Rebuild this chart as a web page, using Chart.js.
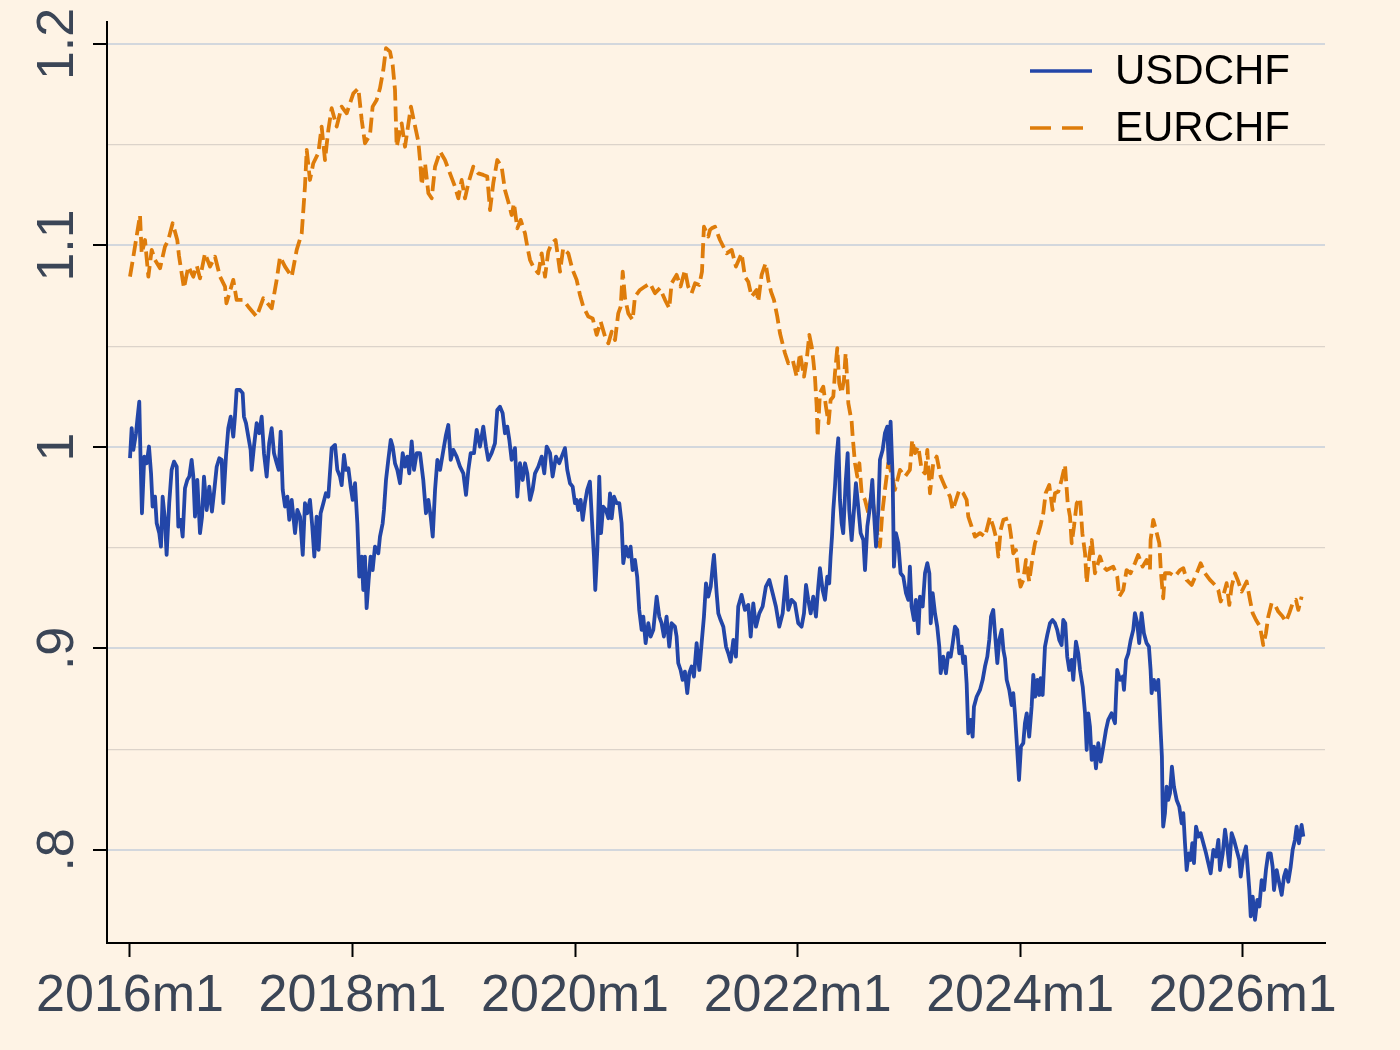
<!DOCTYPE html>
<html>
<head>
<meta charset="utf-8">
<script src="https://cdn.jsdelivr.net/npm/chart.js@4/dist/chart.umd.min.js"></script>
<style>
  html, body { margin: 0; padding: 0; background: #FEF3E5; }
  #c { display: block; }
</style>
</head>
<body>
<canvas id="c" width="1400" height="1050"></canvas>
<script>
// ---- DATA (x = months since 2016m1) ----
const seriesLabels = ['USDCHF', 'EURCHF'];

const usdMonths = [0,0.18,0.36,0.65,0.79,1.0,1.15,1.29,1.54,1.8,2.05,2.27,2.44,2.7,2.88,3.16,3.34,3.52,3.77,3.95,4.23,4.49,4.75,5.04,5.21,5.47,5.68,5.93,6.18,6.4,6.65,6.83,7.01,7.26,7.55,7.77,7.98,8.27,8.55,8.84,9.13,9.35,9.63,9.89,10.06,10.35,10.6,10.86,11.14,11.32,11.5,11.86,12.15,12.29,12.51,12.76,13.01,13.12,13.37,13.66,13.94,14.2,14.45,14.74,15.01,15.28,15.53,15.82,16.04,16.25,16.47,16.72,16.97,17.18,17.44,17.8,18.05,18.34,18.63,18.87,19.12,19.41,19.66,19.88,20.13,20.34,20.56,20.85,21.13,21.39,21.75,22.11,22.36,22.65,22.83,23.08,23.3,23.55,23.8,24.02,24.27,24.52,24.73,24.99,25.16,25.34,25.52,25.74,25.95,26.17,26.42,26.78,26.96,27.25,27.39,27.61,27.86,28.12,28.33,28.58,28.83,29.12,29.41,29.66,29.9,30.12,30.38,30.63,30.92,31.28,31.63,31.92,32.18,32.43,32.65,32.9,33.15,33.44,33.8,34.08,34.33,34.59,34.87,35.23,35.59,35.95,36.24,36.49,36.74,37.1,37.39,37.75,38.1,38.39,38.64,39,39.36,39.61,39.9,40.19,40.44,40.69,40.91,41.16,41.52,41.77,42.06,42.35,42.6,42.85,43.14,43.42,43.68,44.04,44.4,44.68,44.94,45.3,45.58,45.94,46.29,46.56,46.91,47.16,47.45,47.74,47.99,48.17,48.34,48.6,48.82,49.06,49.31,49.6,49.82,50.04,50.18,50.4,50.61,50.8,51.03,51.33,51.59,51.77,51.95,52.2,52.48,52.77,53.02,53.2,53.49,53.74,53.99,54.21,54.46,54.7,54.92,55.18,55.36,55.61,55.9,56.15,56.44,56.8,57.08,57.33,57.58,57.87,58.16,58.41,58.77,58.95,59.13,59.38,59.6,59.85,60.1,60.32,60.57,60.82,61.11,61.4,61.65,61.9,62.12,62.37,62.63,62.84,62.98,63.27,63.45,63.7,63.99,64.28,64.53,64.78,65.07,65.35,65.6,65.96,66.32,66.68,66.94,67.22,67.51,67.87,68.23,68.58,68.95,69.31,69.66,70.02,70.39,70.75,71,71.35,71.71,72.07,72.43,72.69,72.91,73.15,73.41,73.69,73.98,74.23,74.41,74.7,74.95,75.2,75.41,75.56,75.71,75.85,76.03,76.21,76.39,76.57,76.75,76.92,77.18,77.4,77.57,77.83,78.08,78.29,78.54,78.8,79.09,79.27,79.52,79.81,80.06,80.24,80.46,80.71,80.88,81.17,81.42,81.67,81.82,82.03,82.25,82.39,82.61,82.86,83.11,83.4,83.69,83.94,84.11,84.29,84.55,84.76,85.02,85.2,85.49,85.74,85.99,86.21,86.36,86.57,86.82,87.06,87.28,87.43,87.71,88,88.25,88.51,88.73,88.97,89.22,89.44,89.69,89.87,90.05,90.23,90.41,90.66,90.88,91.02,91.31,91.67,91.96,92.21,92.46,92.67,92.86,93.1,93.29,93.54,93.75,94.01,94.2,94.37,94.55,94.83,95.08,95.26,95.44,95.62,95.88,96.09,96.34,96.52,96.71,96.98,97.24,97.42,97.63,97.85,98.06,98.21,98.43,98.68,98.93,99.22,99.5,99.76,100,100.22,100.47,100.65,100.87,101.08,101.3,101.55,101.73,102.02,102.27,102.46,102.75,103,103.18,103.35,103.53,103.72,103.97,104.18,104.43,104.69,104.97,105.26,105.5,105.86,106.23,106.34,106.47,106.77,107.06,107.2,107.42,107.67,107.93,108.2,108.38,108.63,108.84,109.1,109.35,109.64,109.89,110.07,110.18,110.43,110.65,110.9,111.01,111.15,111.29,111.37,111.43,111.62,111.8,111.97,112.16,112.37,112.59,112.88,113.16,113.42,113.6,113.78,113.96,114.18,114.39,114.57,114.75,114.97,115.22,115.47,115.76,116.05,116.3,116.55,116.84,117.13,117.38,117.56,117.85,118.1,118.34,118.56,118.81,119.06,119.35,119.64,119.79,120.07,120.36,120.5,120.72,120.87,121.08,121.33,121.58,121.8,122.05,122.3,122.51,122.76,123.02,123.23,123.38,123.67,123.95,124.21,124.46,124.67,124.92,125.18,125.39,125.64,125.82,126.07,126.36,126.54];
const usdValues = [0.9944,1.0093,0.9985,1.0068,1.0134,1.0225,0.9919,0.9671,0.9952,0.9919,1.0002,0.9869,0.9704,0.9753,0.9621,0.9572,0.9505,0.9753,0.9638,0.9464,0.9721,0.9886,0.9927,0.9902,0.9605,0.9638,0.9555,0.9795,0.9836,0.9853,0.9936,0.9853,0.9654,0.9836,0.9572,0.9654,0.9853,0.9687,0.9803,0.9679,0.9803,0.9902,0.9944,0.9936,0.9721,0.9952,1.0093,1.015,1.0051,1.015,1.0283,1.0283,1.0267,1.015,1.0118,1.0051,0.9985,0.9886,1.0002,1.0118,1.0068,1.015,0.9969,0.9853,1.0018,1.0093,0.9969,0.9919,0.9886,1.0076,0.9787,0.9704,0.9753,0.9638,0.9737,0.9572,0.9687,0.9654,0.9464,0.9721,0.9671,0.9737,0.9605,0.9456,0.9654,0.9489,0.9671,0.9721,0.977,0.9753,0.9994,1.001,0.9886,0.9853,0.9811,0.996,0.9886,0.9894,0.9803,0.9737,0.982,0.9621,0.9356,0.9456,0.929,0.9456,0.92,0.934,0.9456,0.9389,0.9505,0.9472,0.9555,0.9621,0.9687,0.9836,0.9936,1.0035,1.0002,0.9919,0.9886,0.982,0.9969,0.9902,0.9952,0.9869,1.0027,0.9886,0.9969,0.9969,0.9836,0.9671,0.9737,0.9654,0.9555,0.9787,0.9936,0.9886,0.9985,1.006,1.0109,0.9936,0.9985,0.9952,0.9902,0.9869,0.9762,0.9886,0.9969,0.9969,1.0085,1.0002,1.0101,1.0002,0.9936,0.9969,1.0018,1.0184,1.02,1.0167,1.0068,1.0101,1.0035,0.9936,0.9994,0.9753,0.9919,0.9836,0.9919,0.9869,0.9737,0.9787,0.9869,0.9902,0.9952,0.9869,1.0002,0.9969,0.9853,0.9952,0.9919,0.9952,0.9994,0.9886,0.982,0.9803,0.9721,0.9737,0.9687,0.9737,0.9638,0.9721,0.9787,0.9828,0.9638,0.9456,0.929,0.9489,0.9853,0.9572,0.9704,0.9687,0.9646,0.977,0.9646,0.9753,0.9721,0.9721,0.9621,0.9423,0.9505,0.9456,0.9505,0.9389,0.9439,0.9356,0.9191,0.9092,0.9158,0.9026,0.9125,0.9059,0.9092,0.9257,0.9158,0.9125,0.9059,0.9158,0.9009,0.9125,0.9108,0.9059,0.8927,0.8893,0.8844,0.8885,0.8778,0.8877,0.891,0.886,0.9026,0.8893,0.9026,0.9158,0.9323,0.9257,0.9307,0.9406,0.9464,0.9274,0.9174,0.9141,0.9108,0.9009,0.8976,0.8934,0.9042,0.8959,0.9208,0.9266,0.9191,0.9216,0.9059,0.9224,0.9108,0.9174,0.9208,0.9307,0.934,0.9274,0.9208,0.9108,0.9174,0.9356,0.9191,0.9241,0.9224,0.9125,0.9108,0.9174,0.9315,0.9241,0.9174,0.9257,0.9158,0.9307,0.9398,0.929,0.9241,0.9356,0.9323,0.9456,0.9555,0.9687,0.9803,0.9952,1.0043,0.9737,0.9621,0.9572,0.982,0.9969,0.9687,0.9538,0.9687,0.982,0.9704,0.9572,0.9538,0.9389,0.9605,0.9704,0.9836,0.9671,0.9505,0.9687,0.9936,0.9985,1.0068,1.0101,0.9919,1.0126,0.9853,0.9406,0.9572,0.9522,0.9373,0.9356,0.9274,0.9241,0.9406,0.9208,0.9141,0.9241,0.9075,0.9257,0.9208,0.9373,0.9423,0.9373,0.9125,0.9274,0.9174,0.9108,0.9009,0.8877,0.8959,0.8877,0.8976,0.8959,0.9026,0.9108,0.9092,0.8976,0.9009,0.8927,0.8959,0.8827,0.8579,0.8645,0.8562,0.8711,0.876,0.8794,0.8844,0.891,0.8959,0.9042,0.9158,0.9191,0.9075,0.8927,0.9042,0.9092,0.899,0.895,0.8844,0.8794,0.8719,0.8778,0.8678,0.8546,0.8347,0.8513,0.853,0.8629,0.8678,0.8562,0.8711,0.8869,0.8761,0.8844,0.8769,0.8852,0.8769,0.9009,0.9067,0.9125,0.9141,0.9125,0.9092,0.9042,0.9017,0.9141,0.9125,0.8959,0.8893,0.8943,0.8844,0.9034,0.8976,0.8893,0.881,0.8678,0.8496,0.8678,0.8612,0.8447,0.8513,0.8405,0.853,0.8438,0.8513,0.8596,0.8645,0.8678,0.8629,0.8761,0.8893,0.8844,0.886,0.8794,0.8943,0.8976,0.9042,0.9092,0.9175,0.9125,0.9026,0.9175,0.9075,0.9026,0.9009,0.8893,0.8778,0.8844,0.8794,0.8844,0.8744,0.8596,0.8463,0.8215,0.8116,0.8182,0.8314,0.8248,0.8281,0.8413,0.8314,0.8248,0.8215,0.8132,0.8182,0.8033,0.79,0.7983,0.795,0.8033,0.7934,0.8116,0.8066,0.8083,0.8033,0.7983,0.7934,0.7884,0.8,0.7967,0.805,0.79,0.7983,0.81,0.8017,0.7917,0.8083,0.805,0.8,0.795,0.7868,0.7967,0.8017,0.7934,0.7801,0.767,0.7768,0.7653,0.7752,0.7719,0.785,0.7801,0.79,0.7983,0.7983,0.7917,0.7801,0.79,0.7834,0.7777,0.7868,0.79,0.7842,0.7917,0.8,0.805,0.8116,0.8033,0.8124,0.8066];

const eurMonths = [0,0.36,1.08,1.26,1.62,1.98,2.34,2.7,3.24,3.77,4.13,4.6,5.1,5.28,5.57,5.82,6.29,6.83,7.2,7.55,8.09,8.63,9.17,9.71,10.25,10.4,11.14,11.5,12.2,12.76,13.66,14.38,15.28,15.82,16.18,16.72,17.44,17.98,18.52,18.87,19.06,19.41,19.77,20.31,20.67,21.03,21.39,21.75,22.29,22.83,23.37,24.09,24.63,24.99,25.34,25.88,26.17,26.6,26.96,27.32,27.61,28.04,28.33,28.58,28.76,29.3,29.66,30.3,30.6,31.1,31.28,31.46,31.82,32.18,32.54,32.9,33.44,33.97,34.51,35.05,35.41,35.77,36.13,36.49,37.02,37.56,38.1,38.53,38.83,39.18,39.61,40.08,40.44,40.8,41.16,41.41,41.77,42.13,42.6,42.85,43.14,43.57,44.04,44.4,44.76,45.11,45.48,45.9,46.38,46.72,47.27,47.74,48.17,48.53,48.89,49.43,49.9,50.33,50.76,51.23,51.59,51.95,52.31,52.66,52.92,53.14,53.39,53.74,54.21,54.46,55,55.54,56.08,56.62,57.16,57.7,58.16,58.41,58.95,59.38,59.85,60.2,60.57,60.94,61.4,61.69,61.77,61.9,62.37,62.55,62.74,63.09,63.63,64.35,64.89,65.35,65.96,66.32,66.68,67.04,67.58,67.76,68.12,68.55,68.84,69.13,69.45,69.81,70.1,70.46,70.64,71,71.47,71.9,72.26,72.69,72.98,73.26,73.52,73.69,73.87,74.06,74.16,74.41,74.77,75.06,75.34,75.56,75.85,76.03,76.28,76.49,76.75,77,77.18,77.4,77.47,77.83,77.94,78.19,78.44,78.66,78.91,79.27,79.63,79.99,80.24,80.53,80.88,81.13,81.42,81.78,82.14,82.5,83.04,83.58,84.11,84.36,84.66,85.02,85.38,85.74,85.99,86.28,86.63,87,87.43,87.9,88.44,88.73,89.09,89.44,89.87,90.23,90.41,90.77,91.13,91.67,92.21,92.75,93.1,93.47,93.65,93.9,94.19,94.73,94.98,95.26,95.55,95.8,96.05,96.34,96.63,96.98,97.35,97.6,97.96,98.21,98.5,98.75,99.14,99.5,99.76,100.11,100.47,100.84,101.13,101.38,101.56,101.81,102.1,102.46,102.71,103,103.18,103.46,103.72,104.07,104.61,104.97,105.33,106.04,106.47,106.69,107.12,107.48,107.91,108.38,108.73,109.21,109.64,110,110.07,110.36,110.65,111.01,111.19,111.43,111.62,112.16,112.7,113.24,113.6,113.96,114.5,115.04,115.47,115.94,116.47,117.01,117.37,117.63,117.98,118.27,118.56,118.81,119.17,119.53,119.89,120.43,120.79,121.08,121.44,121.87,122.22,122.51,122.76,123.12,123.48,123.84,124.31,124.67,125.03,125.39,125.75,126,126.36];
const eurValues = [1.0845,1.0944,1.115,1.096,1.1027,1.0845,1.0978,1.0928,1.0887,1.0994,1.1027,1.111,1.1027,1.095,1.0862,1.0788,1.0895,1.0845,1.09,1.0837,1.0961,1.0895,1.0944,1.0845,1.0796,1.0713,1.0829,1.073,1.073,1.0696,1.0647,1.0738,1.0688,1.0829,1.0944,1.0895,1.0845,1.0978,1.106,1.1292,1.1474,1.1325,1.1408,1.1458,1.159,1.1424,1.1573,1.1681,1.159,1.1689,1.1656,1.1755,1.178,1.1623,1.1507,1.1548,1.1689,1.1722,1.178,1.1871,1.1979,1.1962,1.1896,1.1772,1.149,1.1606,1.149,1.1689,1.1623,1.1515,1.1424,1.13,1.1408,1.1259,1.1234,1.1391,1.1466,1.1424,1.1358,1.1292,1.1234,1.1325,1.1234,1.1309,1.1391,1.1358,1.135,1.1342,1.1176,1.1309,1.1424,1.1391,1.1275,1.1217,1.1151,1.1209,1.1085,1.1127,1.106,1.0994,1.0928,1.0887,1.0862,1.0961,1.0845,1.0969,1.1011,1.1027,1.087,1.0986,1.0961,1.0878,1.0829,1.0754,1.0696,1.0647,1.0638,1.0556,1.0622,1.0548,1.0514,1.0572,1.0531,1.0663,1.0696,1.087,1.0738,1.0663,1.063,1.0746,1.0779,1.0796,1.0812,1.0763,1.0788,1.073,1.0688,1.0812,1.0854,1.0796,1.0878,1.0796,1.0763,1.0812,1.0804,1.087,1.0961,1.1093,1.1044,1.1077,1.1085,1.1093,1.1027,1.0961,1.0978,1.0895,1.0961,1.0845,1.082,1.0746,1.0779,1.0721,1.0854,1.0912,1.0829,1.0771,1.073,1.0647,1.0564,1.0498,1.0465,1.0415,1.0432,1.0349,1.0465,1.0349,1.0432,1.0556,1.0498,1.0432,1.0349,1.02,1.0051,1.0267,1.0299,1.02,1.0118,1.0233,1.025,1.0366,1.049,1.0316,1.0267,1.0333,1.0465,1.0299,1.0217,1.0126,1.0051,0.9919,0.9853,0.9919,0.977,0.9737,0.9671,0.977,0.9687,0.9588,0.9505,0.9671,0.9787,0.9919,0.9869,0.9787,0.9886,0.9853,0.9886,1.0035,0.9969,1.0002,0.9886,0.9869,0.9985,0.977,0.9919,0.9952,0.9853,0.9803,0.9753,0.9687,0.9737,0.9787,0.977,0.9737,0.9654,0.9605,0.9555,0.9572,0.9555,0.9654,0.9605,0.9538,0.9456,0.9588,0.9638,0.9646,0.9572,0.9472,0.9489,0.9373,0.9307,0.934,0.9439,0.9332,0.9456,0.9522,0.9572,0.9613,0.9671,0.977,0.9811,0.9687,0.977,0.9778,0.9836,0.9911,0.972,0.9654,0.9522,0.9605,0.972,0.9745,0.9572,0.9472,0.9324,0.9456,0.9538,0.9373,0.9456,0.9406,0.9389,0.9406,0.9357,0.9257,0.929,0.9389,0.9373,0.9423,0.9464,0.9406,0.9439,0.9389,0.9538,0.9638,0.9588,0.9522,0.9373,0.9249,0.9373,0.9373,0.9357,0.9389,0.9398,0.934,0.9315,0.9373,0.9423,0.9373,0.934,0.9315,0.929,0.9233,0.9274,0.9324,0.9216,0.9307,0.9373,0.9332,0.9282,0.9332,0.9241,0.9175,0.9141,0.9108,0.9017,0.9075,0.9158,0.9224,0.9216,0.9183,0.9158,0.9133,0.9175,0.9224,0.9241,0.9191,0.9257];

// ---- AXES ----
const xTickValues = [0, 24, 48, 72, 96, 120];
const xTickLabels = ['2016m1', '2018m1', '2020m1', '2022m1', '2024m1', '2026m1'];
const yTickValues = [0.8, 0.9, 1.0, 1.1, 1.2];
const yTickLabels = ['.8', '.9', '1', '1.1', '1.2'];
const yMinorGrid = [0.85, 0.95, 1.05, 1.15];

const FONT = "'Liberation Sans', Arial, sans-serif";
const BLUE = '#2346A8';
const ORANGE = '#DE7C0A';
const LABEL = '#3B4556';
const LINE_DASH = [15, 6];
const LEGEND_DASH = [21, 11];

function toPts(xs, ys) { return xs.map((x, i) => ({ x: x, y: ys[i] })); }
function findIdx(arr, v) { return arr.findIndex(a => Math.abs(a - v) < 1e-6); }
function zeroPad(s) { s.paddingTop = 0; s.paddingBottom = 0; s.paddingLeft = 0; s.paddingRight = 0; }

const legendPlugin = {
  id: 'insideLegend',
  afterDraw(chart) {
    const ctx = chart.ctx;
    const ds = chart.data.datasets;
    const rows = [71, 128];
    ctx.save();
    ds.forEach((d, i) => {
      const y = rows[i];
      ctx.beginPath();
      ctx.strokeStyle = d.borderColor;
      ctx.lineWidth = 3.5;
      ctx.setLineDash(d.borderDash ? LEGEND_DASH : []);
      ctx.moveTo(1030, y);
      ctx.lineTo(1092, y);
      ctx.stroke();
      ctx.setLineDash([]);
      ctx.fillStyle = '#000';
      ctx.font = '42px ' + FONT;
      ctx.textAlign = 'left';
      ctx.textBaseline = 'middle';
      ctx.fillText(d.label, 1115, y + 1);
    });
    ctx.restore();
  }
};

new Chart(document.getElementById('c'), {
  type: 'line',
  data: {
    datasets: [
      { label: seriesLabels[0], data: toPts(usdMonths, usdValues), borderColor: BLUE, borderWidth: 3.8,
        pointRadius: 0, tension: 0, borderJoinStyle: 'round' },
      { label: seriesLabels[1], data: toPts(eurMonths, eurValues), borderColor: ORANGE, borderWidth: 3.8,
        borderDash: LINE_DASH, pointRadius: 0, tension: 0, borderJoinStyle: 'round' }
    ]
  },
  options: {
    responsive: false,
    animation: false,
    events: [],
    layout: { padding: { top: 22, right: 75, left: 0, bottom: 0 } },
    plugins: { legend: { display: false }, tooltip: { enabled: false } },
    scales: {
      x: {
        type: 'linear',
        min: -2.48, max: 128.88,
        afterBuildTicks: s => { s.ticks = xTickValues.map(v => ({ value: v })); },
        afterFit: s => { s.height = 107; zeroPad(s); },
        grid: { drawOnChartArea: false, drawTicks: true, tickLength: 14, tickColor: '#000', tickWidth: 2 },
        border: { display: true, color: '#000', width: 2 },
        ticks: {
          autoSkip: false, maxRotation: 0, minRotation: 0, padding: 8,
          color: LABEL, font: { family: FONT, size: 52 },
          callback: v => { const i = findIdx(xTickValues, v); return i >= 0 ? xTickLabels[i] : ''; }
        }
      },
      y: {
        type: 'linear',
        min: 0.7538, max: 1.2109,
        afterBuildTicks: s => {
          const all = yTickValues.concat(yMinorGrid).sort((a, b) => a - b);
          s.ticks = all.map(v => ({ value: v }));
        },
        afterFit: s => { s.width = 107; zeroPad(s); },
        grid: {
          drawOnChartArea: true, drawTicks: true, tickLength: 14,
          color: c => (c.tick && findIdx(yTickValues, c.tick.value) >= 0) ? '#D3D7DD' : '#DCD3CA',
          lineWidth: c => (c.tick && findIdx(yTickValues, c.tick.value) >= 0) ? 2 : 1.2,
          tickColor: c => (c.tick && findIdx(yTickValues, c.tick.value) >= 0) ? '#000' : 'rgba(0,0,0,0)',
          tickWidth: 2
        },
        border: { display: true, color: '#000', width: 2 },
        ticks: {
          autoSkip: false, minRotation: 90, maxRotation: 90, padding: -2, crossAlign: 'center',
          color: LABEL, font: { family: FONT, size: 52 },
          callback: v => { const i = findIdx(yTickValues, v); return i >= 0 ? yTickLabels[i] : ''; }
        }
      }
    }
  },
  plugins: [legendPlugin]
});
</script>
</body>
</html>
